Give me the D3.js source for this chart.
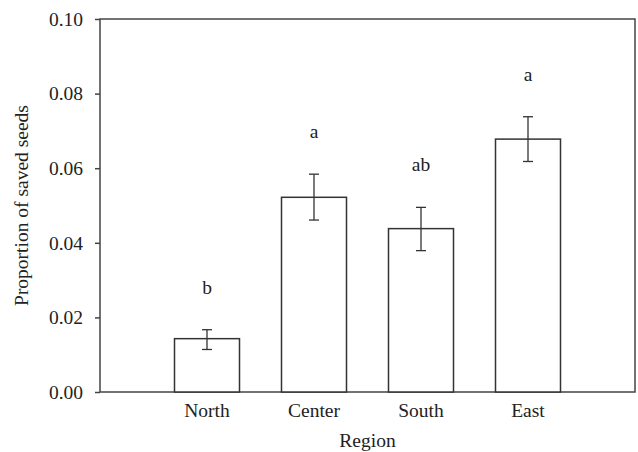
<!DOCTYPE html>
<html>
<head>
<meta charset="utf-8">
<script src="https://cdn.jsdelivr.net/npm/d3@7"></script>
<style>
  body { margin: 0; background: #fff; }
  text { font-family: "Liberation Serif", "Times New Roman", serif; fill: #222; }
</style>
</head>
<body>
<div id="chart"></div>
<script>
// data
var regions = ["North", "Center", "South", "East"];
var means   = [0.0143, 0.0522, 0.0438, 0.0678];
var errLow  = [0.0114, 0.0461, 0.0379, 0.0618];
var errHigh = [0.0167, 0.0584, 0.0495, 0.0738];
var letters = ["b", "a", "ab", "a"];
var yTicks  = [0, 0.02, 0.04, 0.06, 0.08, 0.10];

var width = 638, height = 452;
var plotL = 100, plotR = 635, plotT = 19, plotB = 392;
var fs = "19.5px";

var svg = d3.select("#chart")
  .append("svg")
  .attr("width", width)
  .attr("height", height);

// categories sit at 1..4 on a 0..5 axis
var x = d3.scaleLinear().domain([0, 5]).range([plotL, plotR]);
var y = d3.scaleLinear().domain([0, 0.10]).range([plotB, plotT]);
var barW = 65;
var capW = 10;

// frame
svg.append("rect")
  .attr("x", plotL)
  .attr("y", plotT)
  .attr("width", plotR - plotL)
  .attr("height", plotB - plotT)
  .style("fill", "none")
  .style("stroke", "#444")
  .style("stroke-width", 1.5);

// y axis
var yAxis = d3.axisLeft(y)
  .tickValues(yTicks)
  .tickFormat(d3.format(".2f"))
  .tickSizeInner(5)
  .tickSizeOuter(0)
  .tickPadding(12);

var gy = svg.append("g")
  .attr("transform", "translate(" + plotL + ",0)")
  .call(yAxis);
gy.select(".domain").remove();
gy.selectAll(".tick line").style("stroke", "#444").style("stroke-width", 1.5);
gy.selectAll(".tick text")
  .style("font-family", "Liberation Serif, serif")
  .style("font-size", fs)
  .style("fill", "#222");

// x labels
svg.selectAll(".xlab")
  .data(regions)
  .enter()
  .append("text")
  .attr("class", "xlab")
  .attr("x", function (d, i) { return x(i + 1); })
  .attr("y", plotB + 25)
  .attr("text-anchor", "middle")
  .style("font-size", fs)
  .text(function (d) { return d; });

// bars
svg.selectAll(".bar")
  .data(means)
  .enter()
  .append("rect")
  .attr("class", "bar")
  .attr("x", function (d, i) { return x(i + 1) - barW / 2; })
  .attr("y", function (d) { return y(d); })
  .attr("width", barW)
  .attr("height", function (d) { return y(0) - y(d); })
  .style("fill", "#fff")
  .style("stroke", "#333")
  .style("stroke-width", 1.5);

// error bars
var eg = svg.selectAll(".err")
  .data(means)
  .enter()
  .append("g")
  .attr("class", "err")
  .style("stroke", "#333")
  .style("stroke-width", 1.3);

eg.append("line")
  .attr("x1", function (d, i) { return x(i + 1); })
  .attr("x2", function (d, i) { return x(i + 1); })
  .attr("y1", function (d, i) { return y(errLow[i]); })
  .attr("y2", function (d, i) { return y(errHigh[i]); });
eg.append("line")
  .attr("x1", function (d, i) { return x(i + 1) - capW / 2; })
  .attr("x2", function (d, i) { return x(i + 1) + capW / 2; })
  .attr("y1", function (d, i) { return y(errHigh[i]); })
  .attr("y2", function (d, i) { return y(errHigh[i]); });
eg.append("line")
  .attr("x1", function (d, i) { return x(i + 1) - capW / 2; })
  .attr("x2", function (d, i) { return x(i + 1) + capW / 2; })
  .attr("y1", function (d, i) { return y(errLow[i]); })
  .attr("y2", function (d, i) { return y(errLow[i]); });

// significance letters
svg.selectAll(".sig")
  .data(letters)
  .enter()
  .append("text")
  .attr("class", "sig")
  .attr("x", function (d, i) { return x(i + 1); })
  .attr("y", function (d, i) { return y(errHigh[i]) - 36; })
  .attr("text-anchor", "middle")
  .style("font-size", fs)
  .text(function (d) { return d; });

// axis titles
svg.append("text")
  .attr("x", (plotL + plotR) / 2)
  .attr("y", 447)
  .attr("text-anchor", "middle")
  .style("font-size", fs)
  .text("Region");

svg.append("text")
  .attr("transform", "translate(28," + ((plotT + plotB) / 2) + ") rotate(-90)")
  .attr("text-anchor", "middle")
  .style("font-size", fs)
  .text("Proportion of saved seeds");
</script>
</body>
</html>
